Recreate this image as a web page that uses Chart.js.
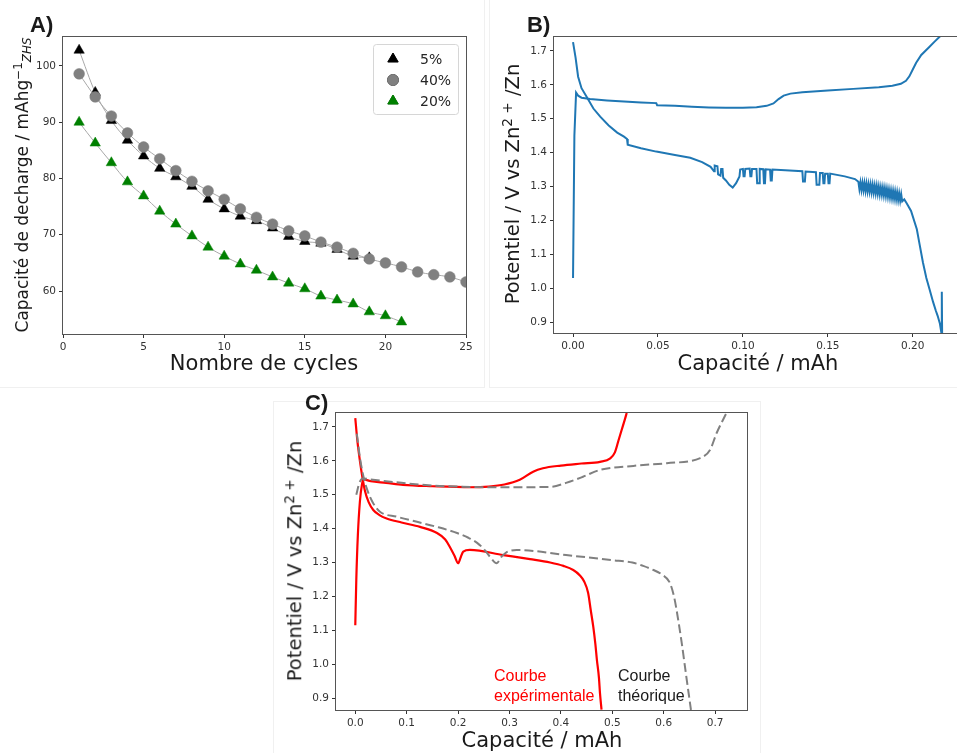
<!DOCTYPE html>
<html lang="fr">
<head>
<meta charset="utf-8">
<title>Capacité de décharge et courbes de potentiel</title>
<script src="https://cdn.jsdelivr.net/npm/chart.js@4.4.1/dist/chart.umd.min.js"></script>
<style>
    html, body { margin: 0; padding: 0; background: #fff; width: 957px; height: 753px; overflow: hidden; }
    body { position: relative; font-family: "DejaVu Sans", sans-serif; color: #1a1a1a; }
    canvas { position: absolute; }
    .frame { position: absolute; border: 1px solid #f0f0f0; box-sizing: border-box; }
    .lbl { position: absolute; white-space: nowrap; line-height: 1; transform: translate(-50%, -50%); }
    .rot { transform: translate(-50%, -50%) rotate(-90deg); }
    .lbl sup { font-size: 70%; vertical-align: 0.5em; line-height: 0; }
    .lbl sub { font-size: 70%; vertical-align: -0.3em; line-height: 0; font-style: italic; }
    .panel { position: absolute; font-family: "Liberation Sans", Arial, sans-serif; font-weight: bold; font-size: 22px; line-height: 1; }
    .note { position: absolute; font-family: "Liberation Sans", Arial, sans-serif; font-size: 16px; line-height: 20px; white-space: nowrap; }
</style>
</head>
<body>

<div class="frame" style="left:-2px; top:-2px; width:487px; height:390px;"></div>
<div class="frame" style="left:489px; top:-2px; width:470px; height:390px;"></div>
<div class="frame" style="left:273px; top:401px; width:488px; height:360px;"></div>

<canvas id="chartA" width="485" height="385" style="left:0; top:0;"></canvas>
<canvas id="chartB" width="480" height="385" style="left:490px; top:0;"></canvas>
<canvas id="chartC" width="485" height="368" style="left:275px; top:385px;"></canvas>

<div class="panel" style="left:30px; top:14px;">A)</div>
<div class="panel" style="left:527px; top:14px;">B)</div>
<div class="panel" style="left:305px; top:392px;">C)</div>

<div class="lbl rot" style="left:21.5px; top:185px; font-size:17px;">Capacité de decharge / mAhg<sup>−1</sup><sub>ZHS</sub></div>
<div class="lbl" style="left:264px; top:363px; font-size:21px;">Nombre de cycles</div>

<div class="lbl rot" style="left:512.5px; top:183.5px; font-size:19.5px;">Potentiel / V vs Zn<sup>2 +</sup> /Zn</div>
<div class="lbl" style="left:758px; top:363px; font-size:21px;">Capacité / mAh</div>

<div class="lbl rot" style="left:294.5px; top:560.5px; font-size:19.5px;">Potentiel / V vs Zn<sup>2 +</sup> /Zn</div>
<div class="lbl" style="left:542px; top:740px; font-size:21px;">Capacité / mAh</div>

<div class="note" style="left:494px; top:666px; color:#ff0000;">Courbe<br>expérimentale</div>
<div class="note" style="left:618px; top:666px; color:#1a1a1a;">Courbe<br>théorique</div>

<script>
// ============================================
// DATA
// ============================================

// A) capacité de décharge vs cycles
const cycles5 = [1, 2, 3, 4, 5, 6, 7, 8, 9, 10, 11, 12, 13, 14, 15, 16, 17, 18, 19];
const capa5 = [102.8, 95.3, 90.3, 86.8, 84.0, 81.8, 80.3, 78.6, 76.3, 74.6, 73.3, 72.5, 71.2, 69.7, 68.8, 68.5, 67.4, 66.2, 65.9];

const cycles40 = [1, 2, 3, 4, 5, 6, 7, 8, 9, 10, 11, 12, 13, 14, 15, 16, 17, 18, 19, 20, 21, 22, 23, 24, 25];
const capa40 = [98.6, 94.5, 91.1, 88.1, 85.6, 83.5, 81.4, 79.5, 77.8, 76.3, 74.6, 73.1, 71.9, 70.7, 69.8, 68.7, 67.8, 66.7, 65.7, 65.0, 64.3, 63.4, 62.9, 62.5, 61.6];

const cycles20 = [1, 2, 3, 4, 5, 6, 7, 8, 9, 10, 11, 12, 13, 14, 15, 16, 17, 18, 19, 20, 21];
const capa20 = [90.0, 86.3, 82.8, 79.4, 76.9, 74.2, 71.9, 69.8, 67.8, 66.2, 64.8, 63.7, 62.5, 61.4, 60.4, 59.1, 58.4, 57.7, 56.3, 55.6, 54.5];

const seriesLabelsA = ['5%', '40%', '20%'];
const xTicksA = [0, 5, 10, 15, 20, 25];
const yTicksA = [60, 70, 80, 90, 100];

// B) potentiel vs capacité (expérience)
const bChargeCap = [0.0000, 0.0008, 0.0018, 0.0030, 0.0050, 0.0100, 0.0200, 0.0300, 0.0400, 0.0490, 0.0495, 0.0600, 0.0700, 0.0800, 0.0900, 0.1000, 0.1080, 0.1140, 0.1180, 0.1210, 0.1240, 0.1280, 0.1350, 0.1500, 0.1650, 0.1800, 0.1880, 0.1930, 0.1960, 0.1980, 0.2000, 0.2020, 0.2050, 0.2090, 0.2130, 0.2165];
const bChargeV = [1.030, 1.450, 1.577, 1.568, 1.562, 1.558, 1.554, 1.551, 1.548, 1.546, 1.540, 1.538, 1.535, 1.533, 1.532, 1.532, 1.534, 1.538, 1.545, 1.558, 1.568, 1.574, 1.578, 1.583, 1.588, 1.593, 1.597, 1.603, 1.612, 1.625, 1.645, 1.665, 1.688, 1.708, 1.728, 1.745];

const bDisCap = [0.0000, 0.0015, 0.0030, 0.0050, 0.0080, 0.0120, 0.0160, 0.0210, 0.0260, 0.0300,
                 0.0318, 0.0322, 0.0400, 0.0490, 0.0600, 0.0690, 0.0760, 0.0810, 0.0830, 0.0834,
                 0.0850, 0.0854, 0.0868, 0.0872, 0.0880, 0.0884, 0.0900, 0.0920, 0.0940, 0.0960,
                 0.0980, 0.0984, 0.1000, 0.1004, 0.1010, 0.1014, 0.1040, 0.1044, 0.1050, 0.1054,
                 0.1080, 0.1084, 0.1095, 0.1099, 0.1120, 0.1124, 0.1130, 0.1134, 0.1160, 0.1164,
                 0.1170, 0.1174, 0.1350, 0.1354, 0.1365, 0.1369, 0.1430, 0.1434, 0.1450, 0.1454,
                 0.1470, 0.1474, 0.1480, 0.1484, 0.1500, 0.1504, 0.1510, 0.1514, 0.1600, 0.1660];
const bDisV = [1.726, 1.680, 1.624, 1.590, 1.565, 1.530, 1.506, 1.480, 1.459, 1.447,
               1.440, 1.423, 1.413, 1.403, 1.393, 1.385, 1.372, 1.358, 1.345, 1.362,
               1.360, 1.336, 1.332, 1.352, 1.352, 1.326, 1.318, 1.305, 1.297, 1.310,
               1.330, 1.350, 1.352, 1.330, 1.330, 1.352, 1.353, 1.330, 1.330, 1.352,
               1.352, 1.310, 1.310, 1.352, 1.351, 1.310, 1.310, 1.351, 1.350, 1.318,
               1.318, 1.350, 1.345, 1.315, 1.315, 1.344, 1.342, 1.305, 1.305, 1.340,
               1.340, 1.310, 1.310, 1.338, 1.338, 1.310, 1.310, 1.338, 1.330, 1.322];

// bande bruitée avant la chute
const bNoiseCap = [0.1680, 0.1686, 0.1692, 0.1698, 0.1704, 0.1710, 0.1716, 0.1722, 0.1728, 0.1734, 0.1740,
                   0.1746, 0.1752, 0.1758, 0.1764, 0.1770, 0.1776, 0.1782, 0.1788, 0.1794, 0.1800, 0.1806,
                   0.1812, 0.1818, 0.1824, 0.1830, 0.1836, 0.1842, 0.1848, 0.1854, 0.1860, 0.1866, 0.1872,
                   0.1878, 0.1884, 0.1890, 0.1896, 0.1902, 0.1908, 0.1914, 0.1920, 0.1926, 0.1932, 0.1938];
const bNoiseV = [1.314, 1.292, 1.312, 1.290, 1.311, 1.289, 1.310, 1.287, 1.309, 1.286, 1.307,
                 1.285, 1.306, 1.283, 1.305, 1.282, 1.303, 1.280, 1.302, 1.279, 1.300, 1.277,
                 1.298, 1.276, 1.297, 1.274, 1.295, 1.272, 1.293, 1.270, 1.291, 1.268, 1.289,
                 1.266, 1.287, 1.264, 1.285, 1.262, 1.283, 1.260, 1.280, 1.258, 1.277, 1.256];

const bTailCap = [0.1950, 0.1965, 0.1990, 0.2024, 0.2040, 0.2060, 0.2080, 0.2100, 0.2120, 0.2135, 0.2147, 0.2160, 0.2168, 0.2171, 0.2173];
const bTailV = [1.262, 1.250, 1.228, 1.174, 1.130, 1.076, 1.030, 0.995, 0.959, 0.935, 0.918, 0.895, 0.870, 0.990, 0.860];

const xTicksB = [0.00, 0.05, 0.10, 0.15, 0.20];
const yTicksB = [0.9, 1.0, 1.1, 1.2, 1.3, 1.4, 1.5, 1.6, 1.7];

// C) expérimentale vs théorique
const cExpChargeCap = [0.000, 0.002, 0.005, 0.009, 0.013, 0.016, 0.030, 0.060, 0.093, 0.150, 0.223, 0.260, 0.290, 0.320, 0.346, 0.365, 0.400, 0.440, 0.476, 0.496, 0.505, 0.512, 0.518, 0.524, 0.528];
const cExpChargeV = [1.115, 1.250, 1.380, 1.480, 1.530, 1.545, 1.540, 1.535, 1.529, 1.525, 1.522, 1.524, 1.530, 1.544, 1.568, 1.578, 1.586, 1.592, 1.597, 1.607, 1.625, 1.660, 1.690, 1.720, 1.741];

const cExpDisCap = [0.000, 0.004, 0.009, 0.014, 0.019, 0.026, 0.035, 0.047, 0.061, 0.090, 0.126, 0.159, 0.175, 0.184, 0.193, 0.200, 0.205, 0.210, 0.223, 0.288, 0.340, 0.379, 0.405, 0.424, 0.437, 0.445, 0.453, 0.458, 0.463, 0.467, 0.470, 0.474, 0.476, 0.479];
const cExpDisV = [1.726, 1.660, 1.600, 1.550, 1.510, 1.478, 1.455, 1.440, 1.430, 1.418, 1.405, 1.387, 1.368, 1.346, 1.320, 1.298, 1.315, 1.332, 1.337, 1.322, 1.310, 1.300, 1.290, 1.278, 1.262, 1.245, 1.210, 1.160, 1.110, 1.060, 1.013, 0.960, 0.915, 0.866];

const cThChargeCap = [0.002, 0.008, 0.015, 0.030, 0.090, 0.150, 0.200, 0.280, 0.379, 0.410, 0.443, 0.476, 0.541, 0.606, 0.671, 0.690, 0.703, 0.722];
const cThChargeV = [1.500, 1.535, 1.548, 1.545, 1.535, 1.527, 1.524, 1.522, 1.523, 1.535, 1.553, 1.573, 1.585, 1.593, 1.608, 1.632, 1.682, 1.741];

const cThDisCap = [0.003, 0.009, 0.015, 0.022, 0.033, 0.048, 0.081, 0.120, 0.159, 0.198, 0.220, 0.237, 0.250, 0.262, 0.275, 0.285, 0.294, 0.314, 0.410, 0.500, 0.539, 0.560, 0.580, 0.596, 0.612, 0.620, 0.625, 0.635, 0.644, 0.653];
const cThDisV = [1.680, 1.610, 1.560, 1.520, 1.480, 1.450, 1.435, 1.420, 1.405, 1.387, 1.373, 1.358, 1.340, 1.317, 1.298, 1.318, 1.330, 1.337, 1.322, 1.307, 1.300, 1.290, 1.278, 1.265, 1.240, 1.200, 1.160, 1.063, 0.963, 0.865];

const xTicksC = [0.0, 0.1, 0.2, 0.3, 0.4, 0.5, 0.6, 0.7];
const yTicksC = [0.9, 1.0, 1.1, 1.2, 1.3, 1.4, 1.5, 1.6, 1.7];

// ============================================
// HELPERS
// ============================================

const TICK_FONT = { family: 'DejaVu Sans', size: 10.5 };

function toPoints(xs, ys) {
    return xs.map((x, i) => ({ x: x, y: ys[i] }));
}

function makeAxis(min, max, tickValues, digits, size, horizontal) {
    return {
        type: 'linear',
        min: min,
        max: max,
        grid: { drawOnChartArea: false, drawTicks: true, tickLength: 4, color: '#333' },
        border: { display: false },
        ticks: {
            font: TICK_FONT,
            color: '#333',
            padding: 3,
            autoSkip: false,
            maxRotation: 0,
            callback: (v) => Number(v).toFixed(digits)
        },
        afterBuildTicks: (scale) => { scale.ticks = tickValues.map(v => ({ value: v })); },
        afterFit: (scale) => {
            if (horizontal) scale.height = size; else scale.width = size;
        }
    };
}

// Matplotlib-like frame around the plot area
const spinesPlugin = {
    id: 'spines',
    afterDatasetsDraw(chart) {
        const a = chart.chartArea;
        const ctx = chart.ctx;
        ctx.save();
        ctx.strokeStyle = '#555';
        ctx.lineWidth = 1;
        ctx.strokeRect(Math.round(a.left) - 0.5, Math.round(a.top) - 0.5,
                       Math.round(a.right - a.left) + 1, Math.round(a.bottom - a.top) + 1);
        ctx.restore();
    }
};

// Legend box in the upper right corner of panel A
const legendAPlugin = {
    id: 'legendA',
    afterDraw(chart) {
        const ctx = chart.ctx;
        const a = chart.chartArea;
        const bx = a.right - 93, by = a.top + 7, bw = 85, bh = 70;
        ctx.save();
        ctx.fillStyle = 'rgba(255,255,255,0.8)';
        ctx.strokeStyle = '#d6d6d6';
        ctx.lineWidth = 1;
        ctx.beginPath();
        ctx.roundRect(bx + 0.5, by + 0.5, bw, bh, 3);
        ctx.fill();
        ctx.stroke();

        ctx.font = '14px "DejaVu Sans"';
        ctx.textBaseline = 'middle';
        ctx.fillStyle = '#262626';
        chart.data.datasets.forEach((ds, i) => {
            const y = by + 15 + i * 21;
            Chart.helpers.drawPoint(ctx, {
                pointStyle: ds.pointStyle,
                radius: ds.pointRadius,
                borderWidth: 1,
                rotation: 0
            }, bx + 20, y);
            ctx.fillStyle = ds.pointBackgroundColor;
            ctx.strokeStyle = ds.pointBorderColor;
            ctx.fill();
            ctx.stroke();
            ctx.fillStyle = '#262626';
            ctx.fillText(ds.label, bx + 47, y + 1);
        });
        ctx.restore();
    }
};

function markerSeries(label, xs, ys, color, style, radius, order) {
    return {
        label: label,
        data: toPoints(xs, ys),
        order: order,
        showLine: true,
        borderColor: '#a8a8a8',
        borderWidth: 1,
        cubicInterpolationMode: 'monotone',
        pointStyle: style,
        pointRadius: radius,
        pointBackgroundColor: color,
        pointBorderColor: color,
        pointBorderWidth: 0.5,
        clip: 0
    };
}

function curve(xs, ys, color, width, dash, smooth) {
    return {
        data: toPoints(xs, ys),
        borderColor: color,
        borderWidth: width,
        borderDash: dash,
        pointRadius: 0,
        cubicInterpolationMode: smooth ? 'monotone' : 'default',
        tension: 0,
        fill: false,
        clip: 0
    };
}

const commonOptions = {
    responsive: false,
    animation: false,
    devicePixelRatio: 1,
    events: [],
    plugins: { legend: { display: false }, tooltip: { enabled: false } }
};

// ============================================
// CHARTS
// ============================================

document.addEventListener('DOMContentLoaded', function() {

    // Panel A
    new Chart(document.getElementById('chartA'), {
        type: 'line',
        data: {
            datasets: [
                markerSeries(seriesLabelsA[0], cycles5, capa5, '#000000', 'triangle', 6, 3),
                markerSeries(seriesLabelsA[1], cycles40, capa40, '#808080', 'circle', 5.4, 1),
                markerSeries(seriesLabelsA[2], cycles20, capa20, '#008000', 'triangle', 6, 2)
            ]
        },
        options: Object.assign({}, commonOptions, {
            layout: { padding: { left: 33, top: 37, right: 19, bottom: 31 } },
            scales: {
                x: makeAxis(0, 25, xTicksA, 0, 20, true),
                y: makeAxis(52.36, 105.15, yTicksA, 0, 30, false)
            }
        }),
        plugins: [spinesPlugin, legendAPlugin]
    });

    // Panel B
    new Chart(document.getElementById('chartB'), {
        type: 'line',
        data: {
            datasets: [
                curve(bChargeCap, bChargeV, '#1f77b4', 2, [], false),
                curve(bDisCap.concat(bNoiseCap, bTailCap), bDisV.concat(bNoiseV, bTailV), '#1f77b4', 2, [], false)
            ]
        },
        options: Object.assign({}, commonOptions, {
            layout: { padding: { left: 34, top: 37, right: 9, bottom: 32 } },
            scales: {
                x: makeAxis(-0.0112, 0.2284, xTicksB, 2, 20, true),
                y: makeAxis(0.868, 1.741, yTicksB, 1, 30, false)
            }
        }),
        plugins: [spinesPlugin]
    });

    // Panel C
    new Chart(document.getElementById('chartC'), {
        type: 'line',
        data: {
            datasets: [
                curve(cThChargeCap, cThChargeV, '#808080', 2, [9, 4], true),
                curve(cThDisCap, cThDisV, '#808080', 2, [9, 4], true),
                curve(cExpChargeCap, cExpChargeV, '#ff0000', 2.2, [], true),
                curve(cExpDisCap, cExpDisV, '#ff0000', 2.2, [], true)
            ]
        },
        options: Object.assign({}, commonOptions, {
            layout: { padding: { left: 31, top: 28, right: 13, bottom: 23 } },
            scales: {
                x: makeAxis(-0.0375, 0.762, xTicksC, 1, 20, true),
                y: makeAxis(0.865, 1.741, yTicksC, 1, 30, false)
            }
        }),
        plugins: [spinesPlugin]
    });
});
</script>
</body>
</html>
